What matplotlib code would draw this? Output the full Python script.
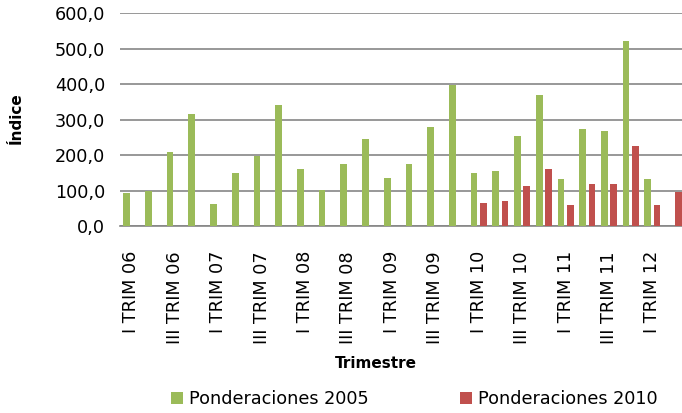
import numpy as np
import matplotlib
matplotlib.use("Agg")
import matplotlib.pyplot as plt

plt.rcParams['font.family'] = ['DejaVu Sans']

quarters = []
for yr in ["06", "07", "08", "09", "10", "11", "12"]:
    for q in ["I", "II", "III", "IV"]:
        quarters.append(f"{q} TRIM {yr}")
quarters = quarters[:26]

pond_2005 = [94, 98, 209, 316, 63, 149, 197, 341, 160, 101, 175, 245,
             134, 175, 279, 398, 149, 154, 254, 370, 132, 273, 268, 522,
             132, np.nan]
pond_2010 = [np.nan] * 16 + [64, 70, 112, 160, 58, 118, 118, 225, 58, 97]

green = "#9BBB59"
red = "#C0504D"
FS = 12.7

fig = plt.figure(figsize=(6.82, 4.13), dpi=100)
ax = fig.add_axes([120.4 / 682, 1 - 226 / 413, (685 - 120.4) / 682, (226 - 13.3) / 413])

x = np.arange(len(quarters))
w = 0.31
ax.bar(x - 0.212, pond_2005, width=w, color=green, label="Ponderaciones 2005", zorder=3)
ax.bar(x + 0.212, pond_2010, width=w, color=red, label="Ponderaciones 2010", zorder=3)

ax.set_xlim(-0.5, len(quarters) - 0.5)
ax.set_ylim(0, 600)
ax.set_yticks(np.arange(0, 601, 100))
ax.set_yticklabels([f"{v:.1f}".replace(".", ",") for v in np.arange(0, 601, 100)], fontsize=FS)
ax.set_xticks(x[::2])
ax.set_xticklabels(quarters[::2], rotation=90, fontsize=FS, va="top", ha="center")
ax.tick_params(axis="both", length=0)
ax.tick_params(axis="y", pad=11)
ax.tick_params(axis="x", pad=18)

ax.grid(axis="y", color="#868686", linewidth=1.2, zorder=0)
for s in ["top", "right", "left"]:
    ax.spines[s].set_visible(False)
ax.spines["bottom"].set_color("#868686")
ax.spines["bottom"].set_linewidth(1.2)

fig.text(16.5 / 682, 1 - 118 / 413, "Índice", fontsize=11, fontweight="bold",
         rotation=90, ha="center", va="center")
fig.text(376 / 682, 1 - 364 / 413, "Trimestre", fontsize=11, fontweight="bold",
         ha="center", va="center")

fig.legend(loc="center", bbox_to_anchor=(414 / 682, 1 - 399 / 413), ncol=2, frameon=False,
           fontsize=FS, handlelength=0.68, handleheight=0.68, handletextpad=0.34,
           columnspacing=5.17, borderaxespad=0)

fig.savefig("out.png", dpi=100)
